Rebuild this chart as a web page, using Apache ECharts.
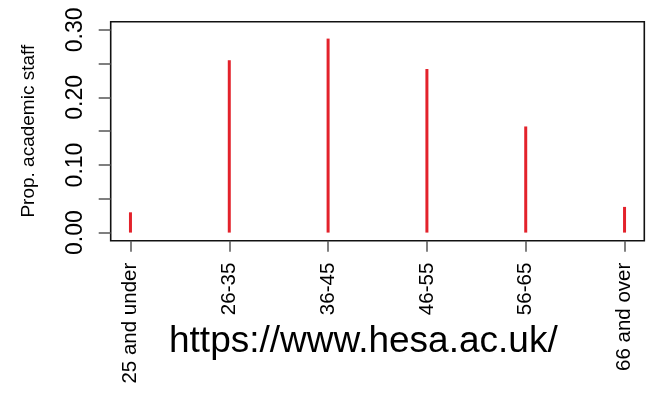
<!DOCTYPE html>
<html>
<head>
<meta charset="utf-8">
<script src="https://cdn.jsdelivr.net/npm/echarts@6/dist/echarts.min.js"></script>
<style>
html,body{margin:0;padding:0;background:#fff;}
#chart{width:647px;height:402px;}
</style>
</head>
<body>
<div id="chart"></div>
<script>
const categories = ["25 and under", "26-35", "36-45", "46-55", "56-65", "66 and over"];
const proportions = [0.030, 0.255, 0.287, 0.242, 0.157, 0.038];
const yTickValues = [0, 0.05, 0.10, 0.15, 0.20, 0.25, 0.30];
const yLabelValues = [0, 0.10, 0.20, 0.30];
const yTitle = "Prop. academic staff";
const sourceText = "https://www.hesa.ac.uk/";

const positions = categories.map((c, i) => i + 1);
const FONT = "Liberation Sans, Arial, Helvetica, sans-serif";

const chart = echarts.init(document.getElementById('chart'), null, {renderer: 'canvas'});
chart.setOption({
  backgroundColor: '#ffffff',
  animation: false,
  grid: {
    left: 110.7, top: 21.7, right: 2.7, bottom: 161.3,
    show: true, borderColor: '#111', borderWidth: 1.6, backgroundColor: 'transparent'
  },
  xAxis: {
    type: 'value', min: 0.8, max: 6.2,
    axisLine: {show: false, onZero: false},
    splitLine: {show: false},
    axisTick: {show: true, length: 11, customValues: positions, lineStyle: {color: '#555', width: 1.5}},
    axisLabel: {
      show: true, customValues: positions, rotate: 90, margin: 22,
      fontSize: 20.5, color: '#000', fontFamily: FONT,
      formatter: v => categories[Math.round(v) - 1] || ''
    }
  },
  yAxis: {
    type: 'value', min: -0.012, max: 0.312,
    axisLine: {show: false, onZero: false},
    splitLine: {show: false},
    axisTick: {show: true, length: 12, customValues: yTickValues, lineStyle: {color: '#555', width: 1.5}},
    axisLabel: {
      show: true, customValues: yLabelValues, rotate: 90, margin: 24,
      fontSize: 23, color: '#000', fontFamily: FONT,
      formatter: v => v.toFixed(2)
    },
    name: yTitle, nameLocation: 'middle', nameGap: 72, nameRotate: 90,
    nameTextStyle: {fontSize: 19, color: '#000', fontFamily: FONT}
  },
  series: [{
    type: 'bar',
    data: positions.map((p, i) => [p, proportions[i]]),
    barWidth: 3,
    itemStyle: {color: '#e3222b'},
    silent: true
  }],
  graphic: [{
    type: 'text', left: 169, top: 323,
    style: {text: sourceText, fill: '#000', font: '37px ' + FONT}
  }]
});
</script>
</body>
</html>
